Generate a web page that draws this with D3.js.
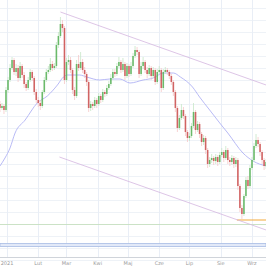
<!DOCTYPE html>
<meta charset="utf-8">
<style>
  body { margin: 0; background: #fff; }
  .tick-label { font-family: "DejaVu Sans", sans-serif; font-size: 5px; fill: #999; }
</style>
<body>
<script src="https://d3js.org/d3.v7.min.js"></script>
<script>

// price data, one candle every 2 days starting 2020-12-25
var startDate = "2020-12-25";
var firstOpen = 296;
var closes = [292,294,290,310,320,332,340,328,332,322,334,325,316,312,320,328,322,308,300,297,
              294,308,320,328,330,336,332,334,355,364,376,372,320,338,340,330,310,304,336,332,
              338,330,326,318,292,296,294,300,296,304,300,308,306,312,316,322,328,326,334,338,
              330,336,324,334,326,334,344,350,348,326,334,338,330,326,332,324,330,318,328,330,
              312,328,330,328,324,318,308,292,272,282,290,284,268,262,264,274,288,270,276,266,
              258,262,250,236,240,242,239,243,238,245,248,242,250,240,238,242,236,240,214,192,
              186,204,220,214,232,240,254,260,256,248,240,234,238];
var highs = [299,297,296,313,323,336,343,342,336,335,338,336,328,318,323,331,330,324,311,303,
             300,310,323,331,334,342,339,337,358,368,383,380,374,342,345,343,332,313,340,345,
             348,341,333,328,320,299,298,303,302,307,306,311,310,315,319,326,331,331,337,343,
             340,342,338,337,336,338,347,354,353,350,338,343,340,333,335,334,333,332,331,334,
             332,331,333,332,330,326,320,310,294,285,296,293,286,270,267,277,297,290,279,278,
             268,265,264,252,243,246,244,246,245,248,252,250,254,252,243,245,244,243,242,216,
             195,206,223,224,235,243,257,266,263,258,250,242,241];
var lows  = [288,290,286,288,307,318,330,325,324,318,320,322,312,309,310,318,319,305,297,293,
             290,292,306,318,326,328,329,330,332,352,362,368,316,318,335,327,306,300,302,329,
             330,327,322,314,288,289,290,292,292,294,297,298,303,304,310,314,320,323,324,332,
             327,328,320,322,323,324,332,342,345,322,324,331,327,322,324,320,322,315,316,326,
             308,310,326,325,321,315,304,288,268,270,280,281,264,258,259,262,272,266,268,262,
             254,255,246,232,233,237,235,236,234,236,243,238,240,236,234,235,232,233,210,188,
             181,184,202,211,212,230,238,252,253,244,236,230,231];

// moving average
var maDates  = ["2020-12-25","2020-12-30","2021-01-04","2021-01-09","2021-01-19","2021-01-31","2021-02-10",
                "2021-02-20","2021-02-26","2021-03-02","2021-03-14","2021-03-21","2021-04-03","2021-04-13",
                "2021-04-23","2021-05-03","2021-05-16","2021-05-26","2021-06-05","2021-06-15","2021-06-22",
                "2021-07-04","2021-07-11","2021-07-21","2021-07-31","2021-08-08","2021-08-23","2021-09-02","2021-09-15"];
var maValues = [234,242,252,267,280,297,304,315,323,325,325,323,320,321,321,317,320,322,327,327,323,
                313,303,290,277,267,247,239,234];

// channel lines and levels
var upperChannel = [["2021-02-23", 388], ["2021-09-15", 315]];
var lowerChannel = [["2021-02-22", 243], ["2021-09-15", 170]];
var supportLevel = [["2021-08-17", 180], ["2021-09-20", 180]];
var greenLevel = 175.5;
var blueBand = [156.5, 153.5];

var monthTicks = ["2021-01-01","2021-02-01","2021-03-01","2021-04-01","2021-05-01","2021-06-01","2021-07-01","2021-08-01","2021-09-01"];
var monthLabels = ["2021","Lut","Mar","Kwi","Maj","Cze","Lip","Sie","Wrz"];

var width = 266, height = 266;
var parse = d3.timeParse("%Y-%m-%d");

var x = d3.scaleTime()
    .domain([parse("2021-01-01"), parse("2021-09-01")])
    .range([7, 252]);
var y = d3.scaleLinear()
    .domain([134, 400])
    .range([height, 0]);

var svg = d3.select("body").append("svg")
    .attr("width", width)
    .attr("height", height);

// build candles
var t0 = parse(startDate);
var candles = closes.map(function(c, i) {
  return {
    date: d3.timeDay.offset(t0, 2 * i),
    open: i == 0 ? firstOpen : closes[i - 1],
    close: c,
    high: highs[i],
    low: lows[i]
  };
});

// grid
svg.append("g")
  .selectAll("line")
  .data(d3.range(140, 400, 12))
  .enter().append("line")
    .attr("x1", 0).attr("x2", width)
    .attr("y1", function(d) { return Math.round(y(d)) + 0.5; })
    .attr("y2", function(d) { return Math.round(y(d)) + 0.5; })
    .attr("stroke", "#eef2f7");

svg.append("g")
  .selectAll("line")
  .data(monthTicks.map(parse))
  .enter().append("line")
    .attr("x1", function(d) { return Math.round(x(d)) + 0.5; })
    .attr("x2", function(d) { return Math.round(x(d)) + 0.5; })
    .attr("y1", 0).attr("y2", 257)
    .attr("stroke", "#e9eef6");

// blue band and levels
svg.append("rect")
  .attr("x", 0).attr("width", width)
  .attr("y", y(blueBand[0]))
  .attr("height", y(blueBand[1]) - y(blueBand[0]))
  .attr("fill", "#e2e9f8")
  .attr("stroke", "#a8bce4")
  .attr("stroke-width", 0.8);

svg.append("line")
  .attr("x1", 0).attr("x2", width)
  .attr("y1", y(greenLevel)).attr("y2", y(greenLevel))
  .attr("stroke", "#c2ddb9")
  .attr("stroke-width", 0.8);

var line = d3.line()
  .x(function(d) { return x(parse(d[0])); })
  .y(function(d) { return y(d[1]); });

svg.append("path")
  .attr("d", line(supportLevel))
  .attr("fill", "none")
  .attr("stroke", "#f2a93b")
  .attr("stroke-width", 1);

[upperChannel, lowerChannel].forEach(function(c) {
  svg.append("path")
    .attr("d", line(c))
    .attr("fill", "none")
    .attr("stroke", "#d4b6e0")
    .attr("stroke-width", 0.8);
});

// moving average
svg.append("path")
  .attr("d", d3.line().curve(d3.curveMonotoneX)
      .x(function(d, i) { return x(parse(maDates[i])); })
      .y(function(d) { return y(d); })(maValues))
  .attr("fill", "none")
  .attr("stroke", "#b0b2f4")
  .attr("stroke-width", 0.9);

// candles
var bw = 1.6;
var g = svg.append("g");
g.selectAll(".wick")
  .data(candles)
  .enter().append("line")
    .attr("x1", function(d) { return x(d.date); })
    .attr("x2", function(d) { return x(d.date); })
    .attr("y1", function(d) { return y(d.high); })
    .attr("y2", function(d) { return y(d.low); })
    .attr("stroke", function(d) { return d.close >= d.open ? "#c6e6c6" : "#f5c8c8"; })
    .attr("stroke-width", 0.8);

g.selectAll(".body")
  .data(candles)
  .enter().append("rect")
    .attr("x", function(d) { return x(d.date) - bw / 2; })
    .attr("width", bw)
    .attr("y", function(d) { return y(Math.max(d.open, d.close)); })
    .attr("height", function(d) { return Math.max(0.8, Math.abs(y(d.open) - y(d.close))); })
    .attr("fill", function(d) { return d.close >= d.open ? "#45a845" : "#c43c3c"; })
    .attr("opacity", 0.75);

// bottom axis
svg.append("line")
  .attr("x1", 0).attr("x2", width)
  .attr("y1", 257.5).attr("y2", 257.5)
  .attr("stroke", "#d0d4da");

svg.append("g")
  .selectAll("text")
  .data(monthTicks)
  .enter().append("text")
    .attr("class", "tick-label")
    .attr("x", function(d) { return x(parse(d)); })
    .attr("y", 265)
    .attr("text-anchor", "middle")
    .text(function(d, i) { return monthLabels[i]; });

</script>
</body>
